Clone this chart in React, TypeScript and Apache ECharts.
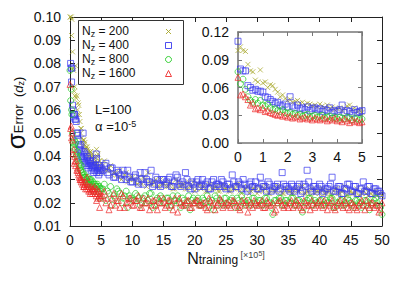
import React, { useEffect, useRef } from 'react';
import * as echarts from 'echarts';

// ---------- data ----------
const nzLabels = ['200', '400', '800', '1600'];

// inset (and early main) samples: x = 0 .. 5, step 0.1  (units of 10^5)
const insetStart = 0;
const insetStep = 0.1;
const inset200 = [
  0.100, 0.104, 0.100, 0.099, 0.085, 0.078, 0.077, 0.068, 0.066, 0.079, 0.065,
  0.066, 0.060, 0.063, 0.062, 0.058, 0.055, 0.050, 0.052, 0.048, 0.046,
  0.047, 0.044, 0.045, 0.046, 0.043, 0.044, 0.041, 0.043, 0.042, 0.040,
  0.041, 0.039, 0.042, 0.040, 0.038, 0.041, 0.037, 0.039, 0.036, 0.037,
  0.038, 0.035, 0.037, 0.040, 0.041, 0.036, 0.038, 0.034, 0.035, 0.033,
];
const inset400 = [
  0.110, 0.080, 0.078, 0.078, 0.062, 0.060, 0.057, 0.058, 0.056, 0.056, 0.055,
  0.050, 0.049, 0.047, 0.045, 0.043, 0.044, 0.041, 0.040, 0.042, 0.039,
  0.050, 0.040, 0.038, 0.041, 0.037, 0.038, 0.036, 0.039, 0.035, 0.037,
  0.038, 0.036, 0.037, 0.034, 0.036, 0.035, 0.038, 0.033, 0.035, 0.034,
  0.036, 0.041, 0.033, 0.035, 0.034, 0.032, 0.036, 0.033, 0.034, 0.035,
];
const inset800 = [
  0.077, 0.064, 0.069, 0.058, 0.050, 0.046, 0.044, 0.047, 0.043, 0.046, 0.041,
  0.040, 0.042, 0.038, 0.036, 0.037, 0.035, 0.034, 0.036, 0.033, 0.032,
  0.033, 0.031, 0.032, 0.030, 0.031, 0.029, 0.030, 0.031, 0.028, 0.029,
  0.030, 0.028, 0.029, 0.030, 0.027, 0.028, 0.029, 0.027, 0.028, 0.026,
  0.028, 0.027, 0.026, 0.028, 0.027, 0.025, 0.027, 0.026, 0.025, 0.026,
];
const inset1600 = [
  0.071, 0.052, 0.053, 0.050, 0.047, 0.041, 0.043, 0.037, 0.038, 0.036, 0.038,
  0.034, 0.035, 0.033, 0.032, 0.031, 0.030, 0.031, 0.029, 0.030, 0.028,
  0.029, 0.027, 0.028, 0.029, 0.026, 0.027, 0.028, 0.026, 0.027, 0.025,
  0.027, 0.026, 0.025, 0.027, 0.026, 0.024, 0.026, 0.025, 0.027, 0.024,
  0.025, 0.023, 0.026, 0.024, 0.022, 0.025, 0.023, 0.024, 0.022, 0.023,
];

// main-plot samples A: x = 5.5 .. 50, step 0.5
const tailStart = 5.5;
const tailStep = 0.5;
const tail200 = [
  0.038, 0.034, 0.036, 0.033, 0.032, 0.034, 0.031, 0.033, 0.030, 0.031,
  0.029, 0.031, 0.028, 0.030, 0.033, 0.028, 0.029, 0.027, 0.030, 0.028,
  0.027, 0.029, 0.026, 0.030, 0.027, 0.028, 0.026, 0.029, 0.027, 0.025,
  0.028, 0.026, 0.027, 0.025, 0.028, 0.026, 0.027, 0.025, 0.028, 0.026,
  0.025, 0.027, 0.026, 0.028, 0.024, 0.026, 0.027, 0.025, 0.026, 0.024,
  0.026, 0.025, 0.027, 0.024, 0.026, 0.025, 0.027, 0.024, 0.026, 0.025,
  0.024, 0.026, 0.025, 0.027, 0.024, 0.025, 0.023, 0.026, 0.025, 0.024,
  0.026, 0.024, 0.025, 0.023, 0.026, 0.024, 0.025, 0.027, 0.023, 0.025,
  0.024, 0.026, 0.023, 0.025, 0.024, 0.026, 0.023, 0.025, 0.024, 0.023,
];
const tail400 = [
  0.036, 0.033, 0.035, 0.031, 0.034, 0.032, 0.034, 0.030, 0.031, 0.029,
  0.032, 0.028, 0.030, 0.033, 0.029, 0.034, 0.028, 0.030, 0.027, 0.030,
  0.029, 0.031, 0.027, 0.032, 0.028, 0.029, 0.033, 0.027, 0.029, 0.026,
  0.030, 0.028, 0.027, 0.029, 0.026, 0.030, 0.028, 0.027, 0.029, 0.026,
  0.028, 0.032, 0.027, 0.029, 0.026, 0.028, 0.025, 0.029, 0.027, 0.026,
  0.031, 0.027, 0.025, 0.028, 0.026, 0.027, 0.025, 0.033, 0.027, 0.026,
  0.028, 0.025, 0.027, 0.024, 0.028, 0.034, 0.026, 0.027, 0.025, 0.028,
  0.024, 0.026, 0.027, 0.031, 0.025, 0.027, 0.024, 0.026, 0.028, 0.025,
  0.027, 0.024, 0.026, 0.029, 0.025, 0.027, 0.024, 0.026, 0.025, 0.023,
];
const tail800 = [
  0.028, 0.025, 0.027, 0.023, 0.026, 0.024, 0.022, 0.025, 0.023, 0.021,
  0.024, 0.022, 0.020, 0.023, 0.021, 0.024, 0.019, 0.022, 0.023, 0.020,
  0.022, 0.018, 0.023, 0.021, 0.020, 0.022, 0.019, 0.023, 0.021, 0.020,
  0.022, 0.019, 0.021, 0.023, 0.020, 0.017, 0.022, 0.021, 0.019, 0.022,
  0.020, 0.022, 0.018, 0.021, 0.023, 0.020, 0.021, 0.019, 0.022, 0.020,
  0.021, 0.019, 0.022, 0.020, 0.015, 0.021, 0.022, 0.019, 0.021, 0.020,
  0.022, 0.019, 0.021, 0.020, 0.018, 0.021, 0.022, 0.019, 0.020, 0.021,
  0.019, 0.021, 0.020, 0.022, 0.018, 0.020, 0.021, 0.019, 0.022, 0.020,
  0.018, 0.021, 0.020, 0.019, 0.021, 0.017, 0.020, 0.022, 0.019, 0.015,
];
const tail1600 = [
  0.025, 0.022, 0.019, 0.024, 0.021, 0.018, 0.023, 0.020, 0.022, 0.019,
  0.021, 0.023, 0.018, 0.020, 0.022, 0.019, 0.021, 0.017, 0.020, 0.022,
  0.019, 0.021, 0.017, 0.020, 0.022, 0.019, 0.020, 0.021, 0.018, 0.020,
  0.021, 0.019, 0.020, 0.017, 0.021, 0.020, 0.019, 0.022, 0.018, 0.020,
  0.019, 0.021, 0.020, 0.018, 0.021, 0.019, 0.016, 0.020, 0.021, 0.019,
  0.020, 0.018, 0.021, 0.019, 0.020, 0.017, 0.021, 0.019, 0.020, 0.018,
  0.021, 0.019, 0.020, 0.018, 0.021, 0.019, 0.017, 0.020, 0.019, 0.021,
  0.018, 0.020, 0.019, 0.021, 0.017, 0.020, 0.019, 0.021, 0.018, 0.020,
  0.019, 0.017, 0.020, 0.019, 0.021, 0.018, 0.020, 0.019, 0.016, 0.020,
];

// main-plot samples B: x = 0.25 .. 49.75, step 0.5
const midStart = 0.25;
const midStep = 0.5;
const mid200 = [
  0.092, 0.070, 0.058, 0.052, 0.047, 0.044, 0.042, 0.040, 0.043, 0.038,
  0.036, 0.034, 0.035, 0.032, 0.033, 0.031, 0.030, 0.032, 0.029, 0.031,
  0.030, 0.028, 0.029, 0.031, 0.027, 0.029, 0.028, 0.030, 0.027, 0.028,
  0.029, 0.027, 0.028, 0.026, 0.029, 0.027, 0.028, 0.026, 0.027, 0.029,
  0.026, 0.028, 0.027, 0.025, 0.028, 0.026, 0.027, 0.025, 0.027, 0.026,
  0.027, 0.025, 0.026, 0.028, 0.025, 0.027, 0.026, 0.024, 0.026, 0.027,
  0.025, 0.027, 0.026, 0.024, 0.026, 0.025, 0.027, 0.025, 0.024, 0.026,
  0.025, 0.024, 0.026, 0.025, 0.027, 0.024, 0.025, 0.026, 0.024, 0.025,
  0.026, 0.024, 0.025, 0.023, 0.025, 0.026, 0.024, 0.025, 0.023, 0.025,
  0.024, 0.025, 0.023, 0.024, 0.026, 0.023, 0.024, 0.025, 0.023, 0.024,
];
const mid400 = [
  0.072, 0.058, 0.050, 0.045, 0.042, 0.040, 0.038, 0.036, 0.039, 0.035,
  0.034, 0.037, 0.032, 0.035, 0.031, 0.033, 0.030, 0.032, 0.034, 0.029,
  0.031, 0.029, 0.033, 0.028, 0.030, 0.029, 0.027, 0.031, 0.028, 0.030,
  0.028, 0.030, 0.027, 0.029, 0.031, 0.027, 0.028, 0.030, 0.026, 0.028,
  0.029, 0.027, 0.030, 0.028, 0.026, 0.029, 0.027, 0.028, 0.030, 0.027,
  0.028, 0.026, 0.029, 0.027, 0.028, 0.030, 0.026, 0.028, 0.027, 0.029,
  0.026, 0.028, 0.027, 0.029, 0.025, 0.027, 0.028, 0.026, 0.028, 0.027,
  0.025, 0.027, 0.026, 0.028, 0.025, 0.027, 0.029, 0.025, 0.027, 0.026,
  0.027, 0.025, 0.026, 0.028, 0.025, 0.026, 0.027, 0.024, 0.026, 0.028,
  0.025, 0.027, 0.024, 0.026, 0.025, 0.027, 0.024, 0.026, 0.025, 0.024,
];
const mid800 = [
  0.060, 0.045, 0.039, 0.034, 0.031, 0.028, 0.030, 0.025, 0.027, 0.022,
  0.026, 0.021, 0.024, 0.019, 0.022, 0.025, 0.020, 0.023, 0.018, 0.022,
  0.021, 0.023, 0.019, 0.022, 0.020, 0.024, 0.018, 0.021, 0.020, 0.022,
  0.020, 0.022, 0.019, 0.021, 0.023, 0.018, 0.021, 0.020, 0.017, 0.022,
  0.021, 0.019, 0.022, 0.020, 0.018, 0.021, 0.023, 0.019, 0.020, 0.022,
  0.019, 0.021, 0.020, 0.022, 0.018, 0.021, 0.019, 0.020, 0.022, 0.019,
  0.021, 0.019, 0.022, 0.020, 0.018, 0.021, 0.020, 0.022, 0.019, 0.021,
  0.020, 0.022, 0.019, 0.021, 0.016, 0.020, 0.022, 0.019, 0.021, 0.020,
  0.021, 0.019, 0.020, 0.022, 0.018, 0.020, 0.021, 0.019, 0.020, 0.021,
  0.019, 0.021, 0.020, 0.018, 0.021, 0.020, 0.019, 0.021, 0.020, 0.018,
];
const mid1600 = [
  0.048, 0.040, 0.034, 0.030, 0.027, 0.031, 0.024, 0.026, 0.021, 0.018,
  0.023, 0.020, 0.017, 0.022, 0.019, 0.021, 0.024, 0.018, 0.020, 0.022,
  0.019, 0.021, 0.018, 0.022, 0.020, 0.017, 0.021, 0.019, 0.022, 0.020,
  0.018, 0.021, 0.019, 0.022, 0.016, 0.020, 0.019, 0.021, 0.018, 0.020,
  0.021, 0.019, 0.020, 0.018, 0.022, 0.019, 0.017, 0.020, 0.021, 0.019,
  0.020, 0.018, 0.021, 0.019, 0.017, 0.020, 0.021, 0.019, 0.018, 0.020,
  0.019, 0.021, 0.018, 0.020, 0.019, 0.016, 0.020, 0.021, 0.018, 0.019,
  0.020, 0.018, 0.021, 0.019, 0.017, 0.020, 0.019, 0.021, 0.018, 0.020,
  0.019, 0.021, 0.017, 0.020, 0.018, 0.019, 0.021, 0.018, 0.020, 0.017,
  0.020, 0.018, 0.019, 0.021, 0.017, 0.019, 0.020, 0.018, 0.019, 0.017,
];

const mainXTicks = { min: 0, max: 50, interval: 5 };
const mainYTicks = { min: 0.01, max: 0.1, interval: 0.01 };
const insetXTicks = { min: 0, max: 5, interval: 1 };
const insetYTicks = { min: 0, max: 0.12, interval: 0.03 };

// ---------- style ----------
const FONT = "'Liberation Sans', Arial, Helvetica, sans-serif";
const colors = ['#a6a628', '#3a3aee', '#26cc26', '#ee2a2a'];
const symbols = ['path://M0,0L10,10M10,0L0,10', 'rect', 'circle', 'triangle'];
const sizes = [5, 6, 6, 6];
const insetSets = [inset200, inset400, inset800, inset1600];
const tailSets = [tail200, tail400, tail800, tail1600];
const midSets = [mid200, mid400, mid800, mid1600];
const LEG_ROW = 14;

const toPts = (vals: number[], start: number, step: number) =>
  vals.map((v, i) => [+(start + i * step).toFixed(3), v]);

function makeAxis(
  kind: 'x' | 'y',
  grid: number,
  pos: string,
  r: { min: number; max: number; interval: number },
  labels: boolean,
  color: string,
  width: number,
  tick: number,
  dec: number,
) {
  return {
    type: 'value',
    gridIndex: grid,
    position: pos,
    min: r.min,
    max: r.max,
    interval: r.interval,
    axisLine: { show: true, onZero: false, lineStyle: { color, width } },
    axisTick: { show: true, inside: true, length: tick, lineStyle: { color, width: 1 } },
    axisLabel: {
      show: labels,
      fontFamily: FONT,
      fontSize: 14,
      color: '#111',
      margin: kind === 'x' ? 7 : 9,
      formatter: (v: number) => v.toFixed(dec),
    },
    splitLine: { show: false },
  };
}

// legend key glyphs (decoration inside the legend box)
function legendIcon(k: number, cx: number, cy: number): any[] {
  const c = colors[k];
  const st = { fill: 'rgba(0,0,0,0)', stroke: c, lineWidth: 0.9 };
  if (k === 0)
    return [
      { type: 'line', z: 21, shape: { x1: cx - 2.5, y1: cy - 2.5, x2: cx + 2.5, y2: cy + 2.5 }, style: st },
      { type: 'line', z: 21, shape: { x1: cx + 2.5, y1: cy - 2.5, x2: cx - 2.5, y2: cy + 2.5 }, style: st },
    ];
  if (k === 1) return [{ type: 'rect', z: 21, shape: { x: cx - 3, y: cy - 3, width: 6, height: 6 }, style: st }];
  if (k === 2) return [{ type: 'circle', z: 21, shape: { cx, cy, r: 3 }, style: st }];
  return [{ type: 'polygon', z: 21, shape: { points: [[cx, cy - 3], [cx + 3, cy + 3], [cx - 3, cy + 3]] }, style: st }];
}

export default function App() {
  const ref = useRef<HTMLDivElement>(null);
  useEffect(() => {
    if (!ref.current) return;
    const chart = echarts.init(ref.current, null, { renderer: 'svg' });
    const series: any[] = [];
    nzLabels.forEach((name, k) => {
      const itemStyle = { color: 'rgba(0,0,0,0)', borderColor: colors[k], borderWidth: 0.9 };
      series.push({
        name,
        type: 'scatter',
        xAxisIndex: 0,
        yAxisIndex: 0,
        symbol: symbols[k],
        symbolSize: sizes[k],
        itemStyle,
        clip: true,
        data: [
          ...toPts(insetSets[k], insetStart, insetStep),
          ...toPts(midSets[k], midStart, midStep),
          ...toPts(tailSets[k], tailStart, tailStep),
        ],
      });
    });
    nzLabels.forEach((name, k) => {
      const itemStyle = { color: 'rgba(0,0,0,0)', borderColor: colors[k], borderWidth: 0.9 };
      series.push({
        name,
        type: 'scatter',
        xAxisIndex: 2,
        yAxisIndex: 2,
        symbol: symbols[k],
        symbolSize: sizes[k],
        itemStyle,
        clip: true,
        data: toPts(insetSets[k], insetStart, insetStep),
      });
    });

    const legendText = {
      type: 'text',
      x: 82,
      y: 31.5 - LEG_ROW / 2,
      z: 20,
      style: {
        text: nzLabels.map((n) => `{n|N}{s|z}{t| = ${n}}`).join('\n'),
        align: 'left',
        verticalAlign: 'top',
        rich: {
          n: { fontFamily: FONT, fontSize: 12, lineHeight: LEG_ROW, verticalAlign: 'top', fill: '#111' },
          s: { fontFamily: FONT, fontSize: 9, lineHeight: 4, verticalAlign: 'bottom', fill: '#111' },
          t: { fontFamily: FONT, fontSize: 12, lineHeight: LEG_ROW, verticalAlign: 'top', fill: '#111' },
        },
      },
    };
    const legendIcons = nzLabels.flatMap((_, k) => legendIcon(k, 168.5, 31.5 + k * LEG_ROW));

    chart.setOption({
      animation: false,
      backgroundColor: '#fff',
      grid: [
        { left: 70, top: 17, width: 312, height: 209, show: false },
        { left: 238, top: 32, width: 124, height: 111, show: true, backgroundColor: '#fff', borderWidth: 0 },
      ],
      xAxis: [
        makeAxis('x', 0, 'bottom', mainXTicks, true, '#222', 1, 5, 0),
        makeAxis('x', 0, 'top', mainXTicks, false, '#222', 1, 5, 0),
        makeAxis('x', 1, 'bottom', insetXTicks, true, '#777', 1.6, 4, 0),
        makeAxis('x', 1, 'top', insetXTicks, false, '#777', 1.6, 4, 0),
      ],
      yAxis: [
        makeAxis('y', 0, 'left', mainYTicks, true, '#222', 1, 5, 2),
        makeAxis('y', 0, 'right', mainYTicks, false, '#222', 1, 5, 2),
        makeAxis('y', 1, 'left', insetYTicks, true, '#777', 1.6, 4, 2),
        makeAxis('y', 1, 'right', insetYTicks, false, '#777', 1.6, 4, 2),
      ],
      graphic: [
        {
          type: 'rect',
          z: 19,
          shape: { x: 78.5, y: 20.5, width: 105, height: 64 },
          style: { fill: '#fff', stroke: '#333', lineWidth: 1 },
        },
        legendText,
        ...legendIcons,
        {
          type: 'text',
          x: 95,
          y: 109,
          style: { text: 'L=100', font: `13px ${FONT}`, fill: '#111', align: 'left', verticalAlign: 'middle' },
        },
        {
          type: 'text',
          x: 95,
          y: 126,
          style: {
            text: '{a|α =10}{p|-5}',
            align: 'left',
            verticalAlign: 'middle',
            rich: {
              a: { fontFamily: FONT, fontSize: 13, lineHeight: 13, verticalAlign: 'bottom', fill: '#111' },
              p: { fontFamily: FONT, fontSize: 9, lineHeight: 6, verticalAlign: 'top', fill: '#111' },
            },
          },
        },
        {
          type: 'text',
          x: 14,
          y: 113,
          rotation: Math.PI / 2,
          style: {
            text: '{s|σ}{e|Error  (}{d|d}{z|z}{e|)}',
            align: 'center',
            verticalAlign: 'middle',
            rich: {
              s: { fontFamily: FONT, fontSize: 26, lineHeight: 22, verticalAlign: 'top', fill: '#111' },
              e: { fontFamily: FONT, fontSize: 13, lineHeight: 8, verticalAlign: 'bottom', fill: '#111' },
              d: { fontFamily: FONT, fontSize: 13, fontStyle: 'italic', lineHeight: 8, verticalAlign: 'bottom', fill: '#111' },
              z: { fontFamily: FONT, fontSize: 9, lineHeight: 4, verticalAlign: 'bottom', fill: '#111' },
            },
          },
        },
        {
          type: 'text',
          x: 226,
          y: 258,
          style: {
            text: '{n|N}{t|training}{b| [×10}{p|5}{b|]}',
            align: 'center',
            verticalAlign: 'middle',
            rich: {
              n: { fontFamily: FONT, fontSize: 16, lineHeight: 16, verticalAlign: 'top', fill: '#111' },
              t: { fontFamily: FONT, fontSize: 12, lineHeight: 8, verticalAlign: 'bottom', fill: '#111' },
              b: { fontFamily: FONT, fontSize: 9, lineHeight: 12, verticalAlign: 'top', fill: '#444' },
              p: { fontFamily: FONT, fontSize: 7, lineHeight: 6, verticalAlign: 'top', fill: '#444' },
            },
          },
        },
      ],
      series,
    });
    return () => chart.dispose();
  }, []);
  return <div ref={ref} style={{ width: 407, height: 285, position: 'absolute', left: 0, top: 0 }} />;
}
